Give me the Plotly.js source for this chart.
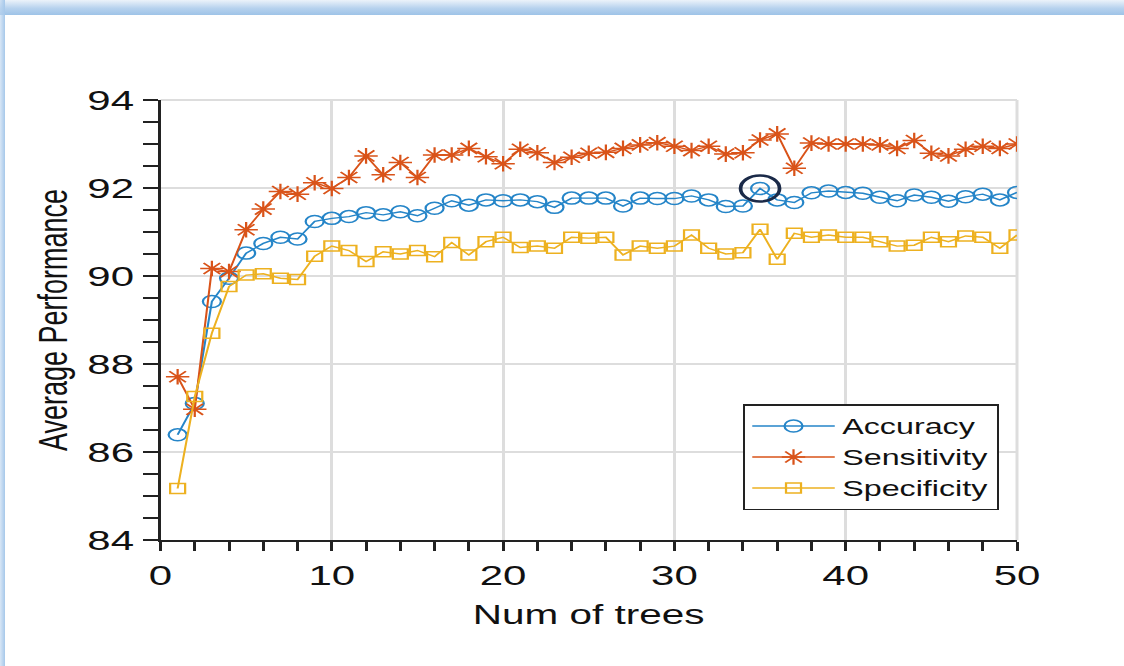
<!DOCTYPE html>
<html>
<head>
<meta charset="utf-8">
<script src="https://cdn.plot.ly/plotly-3.0.1.min.js"></script>
<style>
  html, body { margin:0; padding:0; width:1124px; height:666px; overflow:hidden; background:#fff; }
  #chart { position:absolute; left:0; top:0; width:749px; height:666px; transform:scaleX(1.5); transform-origin:0 0; }
  #frameTop { position:absolute; left:0; top:0; width:1124px; height:15px; pointer-events:none;
    background:linear-gradient(to bottom, rgba(200,220,240,0.35) 0%, rgba(170,202,235,0.85) 55%, #9ec3e7 100%); }
  #frameLeft { position:absolute; left:0; top:0; width:5px; height:666px; pointer-events:none;
    background:linear-gradient(to right, rgba(190,214,240,0.6) 0%, #a6c8ea 100%); }
</style>
</head>
<body>
<div id="chart"></div>
<div id="frameTop"></div>
<div id="frameLeft"></div>
<script>
const trees = [1,2,3,4,5,6,7,8,9,10,11,12,13,14,15,16,17,18,19,20,21,22,23,24,25,26,27,28,29,30,31,32,33,34,35,36,37,38,39,40,41,42,43,44,45,46,47,48,49,50];

const accuracy = [86.39, 87.10, 89.42, 89.95, 90.52, 90.74, 90.88, 90.84, 91.24, 91.31,
  91.35, 91.44, 91.39, 91.46, 91.37, 91.54, 91.71, 91.61, 91.73, 91.71,
  91.73, 91.69, 91.56, 91.77, 91.77, 91.77, 91.59, 91.77, 91.76, 91.76,
  91.82, 91.73, 91.58, 91.59, 91.99, 91.73, 91.67, 91.89, 91.93, 91.90,
  91.88, 91.79, 91.71, 91.84, 91.79, 91.70, 91.80, 91.86, 91.73, 91.90];

const sensitivity = [87.71, 86.97, 90.17, 90.10, 91.05, 91.52, 91.92, 91.86, 92.12, 91.99,
  92.24, 92.73, 92.30, 92.58, 92.24, 92.75, 92.75, 92.90, 92.71, 92.55,
  92.88, 92.80, 92.58, 92.70, 92.79, 92.81, 92.90, 92.98, 93.03, 92.95,
  92.85, 92.95, 92.77, 92.80, 93.09, 93.23, 92.45, 93.02, 93.00, 93.00,
  93.00, 92.98, 92.90, 93.08, 92.79, 92.73, 92.88, 92.95, 92.90, 93.00];

const specificity = [85.17, 87.26, 88.70, 89.76, 90.02, 90.05, 89.95, 89.92, 90.45, 90.68,
  90.58, 90.33, 90.55, 90.50, 90.58, 90.44, 90.76, 90.48, 90.78, 90.88,
  90.65, 90.68, 90.63, 90.88, 90.86, 90.88, 90.48, 90.68, 90.63, 90.68,
  90.93, 90.63, 90.50, 90.53, 91.06, 90.38, 90.97, 90.88, 90.93, 90.88,
  90.88, 90.78, 90.68, 90.70, 90.88, 90.78, 90.91, 90.88, 90.63, 90.93];

const seriesNames = ["Accuracy", "Sensitivity", "Specificity"];
const highlightTree = 35;

const xTickVals = [0, 10, 20, 30, 40, 50];
const yTickVals = [84, 86, 88, 90, 92, 94];

const FONT = '"Liberation Sans", Arial, Helvetica, sans-serif';
const hiIdx = trees.indexOf(highlightTree);

const traces = [
  { x: trees, y: accuracy, name: seriesNames[0], type: 'scatter', mode: 'lines+markers',
    line: { color: '#2585c8', width: 1.4 },
    marker: { symbol: 'circle-open', size: 12, color: '#2585c8', line: { width: 1.5, color: '#2585c8' } } },
  { x: trees, y: sensitivity, name: seriesNames[1], type: 'scatter', mode: 'lines+markers',
    line: { color: '#D95319', width: 1.4 },
    marker: { symbol: 'asterisk-open', size: 13, color: '#D95319', line: { width: 1.5, color: '#D95319' } } },
  { x: trees, y: specificity, name: seriesNames[2], type: 'scatter', mode: 'lines+markers',
    line: { color: '#EDB120', width: 1.4 },
    marker: { symbol: 'square-open', size: 10, color: '#EDB120', line: { width: 1.5, color: '#EDB120' } } },
  { x: [trees[hiIdx]], y: [accuracy[hiIdx]], type: 'scatter', mode: 'markers', showlegend: false,
    marker: { symbol: 'circle-open', size: 26, color: '#1b2a48', line: { width: 2.5, color: '#1b2a48' } } }
];

const layout = {
  width: 749, height: 666,
  margin: { l: 106.7, r: 70.7, t: 100, b: 126 },
  paper_bgcolor: 'rgba(0,0,0,0)',
  plot_bgcolor: '#ffffff',
  font: { family: FONT, color: '#111', size: 26 },
  showlegend: true,
  legend: {
    x: 0.979, y: 0.068, xanchor: 'right', yanchor: 'bottom',
    bgcolor: '#ffffff', bordercolor: '#222', borderwidth: 1.5,
    font: { family: FONT, size: 21.5, color: '#111' },
    itemwidth: 55, tracegroupgap: 0
  },
  shapes: [
    { type: 'line', xref: 'paper', yref: 'paper', x0: 0, x1: 1, y0: 1, y1: 1, line: { color: '#dddddd', width: 2 }, layer: 'below' },
    { type: 'line', xref: 'paper', yref: 'paper', x0: 1, x1: 1, y0: 0, y1: 1, line: { color: '#dddddd', width: 2 }, layer: 'below' }
  ],
  xaxis: {
    range: [0, 50], tickvals: xTickVals, ticktext: xTickVals.map(String),
    ticks: 'outside', ticklen: 9, tickwidth: 2, tickcolor: '#222',
    minor: { dtick: 2, ticks: 'outside', ticklen: 9, tickwidth: 2, tickcolor: '#222', showgrid: false },
    showline: true, linecolor: '#222', linewidth: 2, mirror: false,
    showgrid: true, gridcolor: '#dddddd', gridwidth: 2, zeroline: false,
    tickfont: { family: FONT, size: 28, color: '#111' },
    title: { text: 'Num of trees', font: { family: FONT, size: 27, color: '#111' }, standoff: 16 }
  },
  yaxis: {
    range: [84, 94], tickvals: yTickVals, ticktext: yTickVals.map(String),
    ticks: 'outside', ticklen: 10, tickwidth: 2, tickcolor: '#222',
    minor: { dtick: 0.5, ticks: 'outside', ticklen: 10, tickwidth: 2, tickcolor: '#222', showgrid: false },
    showline: true, linecolor: '#222', linewidth: 2, mirror: false,
    showgrid: true, gridcolor: '#dddddd', gridwidth: 2, zeroline: false,
    tickfont: { family: FONT, size: 28, color: '#111' },
    title: { text: 'Average Performance', font: { family: FONT, size: 27, color: '#111' }, standoff: 5 }
  }
};

Plotly.newPlot('chart', traces, layout, { staticPlot: true, displayModeBar: false });
</script>
</body>
</html>
